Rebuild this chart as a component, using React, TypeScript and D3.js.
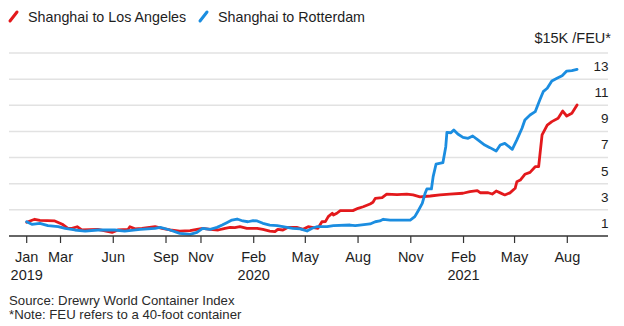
import React from "react";
import * as d3 from "d3";

const laDates = [
  "2019-01-01","2019-01-15","2019-01-24","2019-02-19","2019-03-04","2019-03-14","2019-03-21","2019-03-30",
  "2019-04-07","2019-05-05","2019-05-30","2019-06-09","2019-06-27","2019-06-30","2019-07-09","2019-07-21",
  "2019-08-13","2019-08-25","2019-09-08","2019-09-25","2019-10-13","2019-10-25","2019-11-04","2019-11-17",
  "2019-12-01","2019-12-13","2019-12-22","2019-12-30","2020-01-08","2020-01-20","2020-02-07","2020-02-17",
  "2020-02-29","2020-03-09","2020-03-14","2020-03-23","2020-04-01","2020-04-16","2020-04-27","2020-05-06",
  "2020-05-13","2020-05-23","2020-05-30","2020-06-05","2020-06-10","2020-06-17","2020-06-19","2020-06-25",
  "2020-07-01","2020-07-23","2020-08-01","2020-08-10","2020-08-22","2020-08-27","2020-08-31","2020-09-12",
  "2020-09-20","2020-10-08","2020-10-25","2020-11-05","2020-11-17","2020-12-05","2020-12-22","2021-01-08",
  "2021-01-31","2021-02-12","2021-02-25","2021-03-02","2021-03-16","2021-03-23","2021-03-30","2021-04-06",
  "2021-04-14","2021-04-23","2021-05-02","2021-05-05","2021-05-11","2021-05-19","2021-05-28","2021-06-06",
  "2021-06-12","2021-06-18","2021-06-27","2021-07-05","2021-07-16","2021-07-24","2021-07-31","2021-08-09",
  "2021-08-18"
];
const laValues = [
  1.05,1.28,1.2,1.15,0.9,0.59,0.59,0.71,
  0.46,0.51,0.28,0.46,0.51,0.71,0.55,0.59,
  0.71,0.59,0.46,0.38,0.41,0.51,0.59,0.51,
  0.46,0.59,0.66,0.64,0.71,0.59,0.59,0.51,
  0.38,0.33,0.51,0.46,0.66,0.66,0.51,0.71,
  0.66,0.59,1.09,1.1,1.48,1.74,1.6,1.74,
  1.94,1.94,2.12,2.24,2.45,2.58,2.88,2.93,
  3.21,3.17,3.21,3.14,3.0,3.06,3.14,3.21,
  3.27,3.39,3.47,3.31,3.31,3.21,3.44,3.3,
  3.14,3.3,3.65,4.15,4.28,4.72,4.87,5.3,
  5.3,7.73,8.49,8.75,9.0,9.56,9.18,9.39,
  10.02
];

const rtDates = [
  "2019-01-01","2019-01-10","2019-01-24","2019-02-07","2019-02-25","2019-03-09","2019-03-26","2019-04-13",
  "2019-05-05","2019-06-04","2019-06-21","2019-07-18","2019-08-13","2019-08-22","2019-09-08","2019-09-25",
  "2019-10-13","2019-10-25","2019-11-04","2019-11-17","2019-11-29","2019-12-08","2019-12-16","2019-12-25",
  "2020-01-03","2020-01-13","2020-01-22","2020-01-31","2020-02-07","2020-02-17","2020-02-29","2020-03-13",
  "2020-03-30","2020-04-09","2020-04-22","2020-05-04","2020-05-13","2020-05-21","2020-06-08","2020-06-19",
  "2020-07-18","2020-07-27","2020-08-04","2020-08-22","2020-08-31","2020-09-08","2020-09-14","2020-09-26",
  "2020-10-31","2020-11-08","2020-11-13","2020-11-21","2020-11-26","2020-11-29","2020-12-07","2020-12-10",
  "2020-12-15","2020-12-27","2021-01-01","2021-01-03","2021-01-10","2021-01-15","2021-01-22","2021-01-31",
  "2021-02-09","2021-02-17","2021-02-26","2021-03-10","2021-03-19","2021-03-30","2021-04-06","2021-04-14",
  "2021-04-27","2021-05-05","2021-05-14","2021-05-19","2021-05-28","2021-06-06","2021-06-14","2021-06-20",
  "2021-06-27","2021-07-05","2021-07-14","2021-07-23","2021-07-31","2021-08-09","2021-08-18"
];
const rtValues = [
  1.09,0.89,0.97,0.79,0.71,0.59,0.46,0.38,
  0.46,0.46,0.38,0.5,0.59,0.66,0.46,0.2,
  0.13,0.28,0.59,0.51,0.66,0.84,1.02,1.22,
  1.3,1.15,1.09,1.17,1.15,0.97,0.84,0.79,
  0.66,0.59,0.54,0.38,0.59,0.71,0.71,0.79,
  0.84,0.79,0.84,0.92,1.09,1.15,1.28,1.22,
  1.22,1.48,1.86,2.5,3.27,3.6,3.6,4.54,
  5.49,5.61,6.83,7.93,7.9,8.11,7.8,7.55,
  7.47,7.65,7.35,6.96,6.76,6.5,6.96,7.09,
  6.63,7.35,8.24,8.88,9.26,9.51,10.41,11.04,
  11.3,11.86,12.07,12.26,12.62,12.65,12.75
];

const gridValues = [2, 4, 6, 8, 10, 12, 14];
const yLabelValues = [1, 3, 5, 7, 9, 11, 13];
const xTickDates = ["2019-01-01","2019-03-01","2019-06-01","2019-09-01","2019-11-01","2020-02-01","2020-05-01","2020-08-01","2020-11-01","2021-02-01","2021-05-01","2021-08-01"];
const xTickLabels = ["Jan","Mar","Jun","Sep","Nov","Feb","May","Aug","Nov","Feb","May","Aug"];
const xTickYears = ["2019","","","","","2020","","","","2021","",""];
const seriesNames = ["Shanghai to Los Angeles", "Shanghai to Rotterdam"];
const seriesColors = ["#e3191c", "#1b8de0"];
const unitLabel = "$15K /FEU*";
const sourceLines = ["Source: Drewry World Container Index", "*Note: FEU refers to a 40-foot container"];

const W = 624, H = 326;
const FONT = "'Liberation Sans', Arial, sans-serif";

export default function App() {
  const parse = d3.timeParse("%Y-%m-%d");
  const x = d3.scaleTime()
    .domain([parse("2019-01-01")!, parse("2021-08-01")!])
    .range([26.7, 567.3]);
  const y = d3.scaleLinear().domain([0, 14]).range([236, 53]);

  const line = d3.line<[Date, number]>()
    .x((d) => x(d[0]))
    .y((d) => y(d[1]))
    .curve(d3.curveLinear);

  const la: [Date, number][] = laDates.map((d, i) => [parse(d)!, laValues[i]]);
  const rt: [Date, number][] = rtDates.map((d, i) => [parse(d)!, rtValues[i]]);

  const x0 = 9, x1 = 608;
  const textColor = "#1e1e1e";

  return (
    <svg width={W} height={H} style={{ position: "absolute", left: 0, top: 0, background: "#fff" }} fontFamily={FONT}>
      {/* Legend */}
      <line x1={10} y1={21} x2={17} y2={12} stroke={seriesColors[0]} strokeWidth={3} strokeLinecap="round" />
      <text x={28} y={22} fontSize={14.3} fill={textColor}>{seriesNames[0]}</text>
      <line x1={200} y1={21} x2={207} y2={12} stroke={seriesColors[1]} strokeWidth={3} strokeLinecap="round" />
      <text x={218} y={22} fontSize={14.3} fill={textColor}>{seriesNames[1]}</text>

      <text x={611} y={43} fontSize={14.5} textAnchor="end" fill={textColor}>{unitLabel}</text>

      {/* Gridlines */}
      {gridValues.map((v) => (
        <line key={v} x1={x0} x2={x1} y1={y(v)} y2={y(v)} stroke="#e2e2e2" strokeWidth={1.5} />
      ))}
      {/* Y labels */}
      {yLabelValues.map((v) => (
        <text key={v} x={608.5} y={y(v)} dy="0.36em" fontSize={13.5} textAnchor="end" fill={textColor}>{v}</text>
      ))}

      {/* Lines */}
      <path d={line(la) || ""} fill="none" stroke={seriesColors[0]} strokeWidth={2.8} strokeLinejoin="round" strokeLinecap="round" />
      <path d={line(rt) || ""} fill="none" stroke={seriesColors[1]} strokeWidth={2.8} strokeLinejoin="round" strokeLinecap="round" />

      {/* Axis */}
      <line x1={x0} x2={x1} y1={y(0)} y2={y(0)} stroke="#333" strokeWidth={1.5} />
      {xTickDates.map((d, i) => {
        const xx = x(parse(d)!);
        return (
          <g key={d}>
            <line x1={xx} x2={xx} y1={y(0)} y2={y(0) + 7} stroke="#333" strokeWidth={1.2} />
            <text x={xx} y={262} fontSize={14.5} textAnchor="middle" fill={textColor}>{xTickLabels[i]}</text>
            {xTickYears[i] && (
              <text x={xx} y={280} fontSize={14.5} textAnchor="middle" fill={textColor}>{xTickYears[i]}</text>
            )}
          </g>
        );
      })}

      {/* Source */}
      <text x={9} y={305} fontSize={13.2} fill="#2a2a2a">{sourceLines[0]}</text>
      <text x={9} y={319} fontSize={13.2} fill="#2a2a2a">{sourceLines[1]}</text>
    </svg>
  );
}
